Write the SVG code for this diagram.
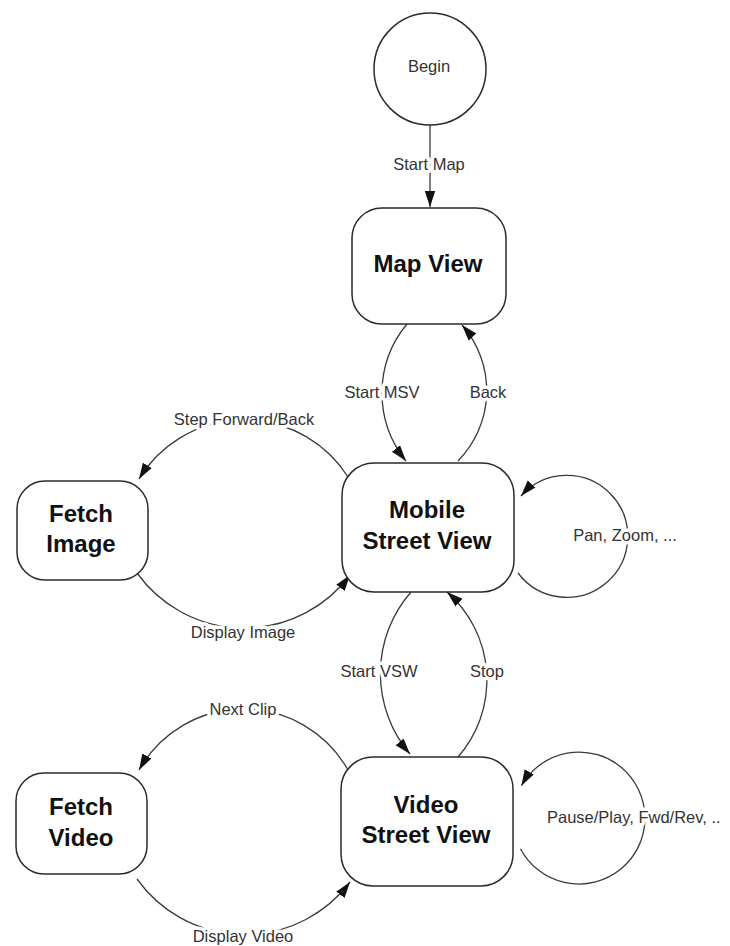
<svg xmlns="http://www.w3.org/2000/svg" width="730" height="946" viewBox="0 0 730 946">
<style>
.node{fill:#fff;stroke:#2a2a2a;stroke-width:1.5}
.title{font-family:"Liberation Sans",Arial,sans-serif;font-weight:bold;font-size:24px;fill:#111;text-anchor:middle}
.begin{font-family:"Liberation Sans",Arial,sans-serif;font-size:16.5px;fill:#333;text-anchor:middle}
.edge{fill:none;stroke:#3a3a3a;stroke-width:1.3}
.lbl{font-family:"Liberation Sans",Arial,sans-serif;font-size:16.5px;fill:#333;text-anchor:middle;stroke:#fff;stroke-width:7;paint-order:stroke;stroke-linejoin:round}
</style>
<defs>
<marker id="arr" markerWidth="18" markerHeight="12" refX="16" refY="6" orient="auto" markerUnits="userSpaceOnUse">
<path d="M0,0.8 L16,6 L0,11.2 z" fill="#111"/>
</marker>
</defs>
<rect width="730" height="946" fill="#fff"/>

<g id="connectors">
<path class="edge" d="M430,125 L430,207" marker-end="url(#arr)"/>
<path class="edge" d="M407,324 A108,108 0 0 0 406,461" marker-end="url(#arr)"/>
<path class="edge" d="M458,461 A100,100 0 0 0 462,325" marker-end="url(#arr)"/>
<path class="edge" d="M348,477 A123,123 0 0 0 139,479" marker-end="url(#arr)"/>
<path class="edge" d="M137,573 A132,132 0 0 0 350,575" marker-end="url(#arr)"/>
<path class="edge" d="M518,573 A61,61 0 1 0 521,496" marker-end="url(#arr)"/>
<path class="edge" d="M411,592 A124,124 0 0 0 410,754" marker-end="url(#arr)"/>
<path class="edge" d="M458,757 A117,117 0 0 0 447,592" marker-end="url(#arr)"/>
<path class="edge" d="M348,770 A120,120 0 0 0 139,770" marker-end="url(#arr)"/>
<path class="edge" d="M137,879 A132,132 0 0 0 350,882" marker-end="url(#arr)"/>
<path class="edge" d="M520.5,848.7 A66,66 0 1 0 521.4,785.8" marker-end="url(#arr)"/>
<text class="lbl" x="429" y="170">Start Map</text>
<text class="lbl" x="382" y="398">Start MSV</text>
<text class="lbl" x="488" y="398">Back</text>
<text class="lbl" x="244" y="425">Step Forward/Back</text>
<text class="lbl" x="243" y="638">Display Image</text>
<text class="lbl" x="625" y="541">Pan, Zoom, ...</text>
<text class="lbl" x="379" y="677">Start VSW</text>
<text class="lbl" x="487" y="677">Stop</text>
<text class="lbl" x="243" y="715">Next Clip</text>
<text class="lbl" x="243" y="942">Display Video</text>
<text class="lbl" x="547" y="823" style="text-anchor:start">Pause/Play, Fwd/Rev, ..</text>
</g>

<g id="begin">
<circle class="node" cx="430" cy="69" r="56"/>
<text class="begin" x="429" y="72">Begin</text>
</g>
<g id="map-view">
<rect class="node" x="352" y="208" width="154" height="116" rx="30"/>
<text class="title" x="428" y="272">Map View</text>
</g>
<g id="mobile-street-view">
<rect class="node" x="342" y="463" width="172" height="129" rx="32"/>
<text class="title" x="427" y="518">Mobile</text>
<text class="title" x="427" y="549">Street View</text>
</g>
<g id="fetch-image">
<rect class="node" x="17" y="481" width="131" height="99" rx="28"/>
<text class="title" x="81" y="522">Fetch</text>
<text class="title" x="81" y="552">Image</text>
</g>
<g id="video-street-view">
<rect class="node" x="341" y="757" width="172" height="129" rx="32"/>
<text class="title" x="426" y="813">Video</text>
<text class="title" x="426" y="843">Street View</text>
</g>
<g id="fetch-video">
<rect class="node" x="16" y="773" width="131" height="101" rx="28"/>
<text class="title" x="81" y="815">Fetch</text>
<text class="title" x="81" y="846">Video</text>
</g>
</svg>
